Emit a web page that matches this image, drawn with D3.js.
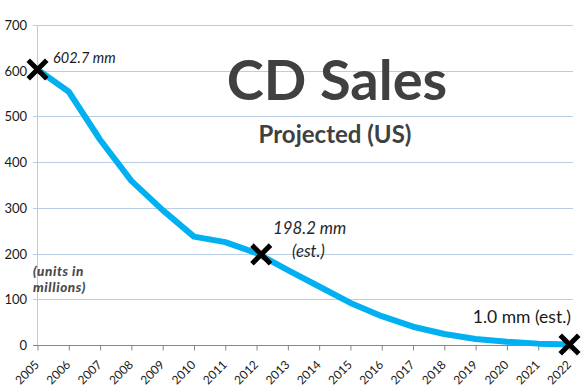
<!DOCTYPE html>
<html><head><meta charset="utf-8">
<script src="https://cdn.jsdelivr.net/npm/d3@7"></script>
<style>body{margin:0;background:#fff}svg{display:block}</style>
</head><body>
<svg id="c" width="588" height="392"></svg>
<script>
const years = [2005,2006,2007,2008,2009,2010,2011,2012,2013,2014,2015,2016,2017,2018,2019,2020,2021,2022];
const sales = [602.7,554,449,359,295,237,225,201,164,128,92,63,40,24,13,7,3,1.0];
const yTicks = [0,100,200,300,400,500,600,700];
const markerYears = [2005,2012.15,2022];
const markerValues = [602.7,198.2,1.0];

const svg = d3.select("#c");
const font = "Lato, 'Open Sans', sans-serif";
const x = d3.scaleLinear().domain([2005,2022]).range([37.5,569.5]);
const y = d3.scaleLinear().domain([0,700]).range([345,25]);

// gridlines
svg.append("g").selectAll("line").data(yTicks.filter(d=>d>0)).join("line")
  .attr("x1",33).attr("x2",573).attr("y1",d=>Math.round(y(d))+0.5).attr("y2",d=>Math.round(y(d))+0.5)
  .attr("stroke","#b9cde5").attr("stroke-width",1);
// y axis line
svg.append("line").attr("x1",37.5).attr("x2",37.5).attr("y1",25).attr("y2",345)
  .attr("stroke","#b9cde5");
// y labels
svg.append("g").selectAll("text").data(yTicks).join("text")
  .attr("x",27).attr("y",d=>y(d)+5).attr("text-anchor","end")
  .attr("font-family",font).attr("font-size",13).attr("fill","#1a1a1a").text(d=>d);
// x axis
const xa = svg.append("g").attr("transform","translate(0,345.5)")
  .call(d3.axisBottom(x).tickValues(years).tickFormat(d3.format("d")).tickSize(5).tickSizeOuter(0));
xa.select(".domain").attr("stroke","#868686").attr("d","M33,0H573");
xa.selectAll(".tick line").attr("stroke","#868686");
xa.selectAll(".tick text").attr("font-family",font).attr("font-size",12).attr("fill","#1a1a1a")
  .attr("text-anchor","end").attr("x",0).attr("y",0).attr("dy","0.35em")
  .attr("transform","translate(-1,17) rotate(-45)");

// line
const line = d3.line().x((d,i)=>x(years[i])).y(d=>y(d)).curve(d3.curveLinear);
svg.append("path").datum(sales).attr("d",line).attr("fill","none")
  .attr("stroke","#00b0f0").attr("stroke-width",6).attr("stroke-linejoin","round");

// markers
const ms = 7.5;
svg.append("g").selectAll("path").data(markerValues).join("path")
  .attr("d",(d,i)=>{const cx=x(markerYears[i]),cy=y(d);return `M${cx-ms},${cy-ms}L${cx+ms},${cy+ms}M${cx+ms},${cy-ms}L${cx-ms},${cy+ms}`;})
  .attr("stroke","#000").attr("stroke-width",5).attr("stroke-linecap","square");

// annotations
svg.append("text").attr("x",53).attr("y",63).attr("font-family",font).attr("font-style","italic")
  .attr("font-size",14.5).attr("fill","#1a1a1a").text("602.7 mm");
svg.append("text").attr("x",273).attr("y",234).attr("font-family",font).attr("font-style","italic")
  .attr("font-size",16.8).attr("fill","#262626").text("198.2 mm");
svg.append("text").attr("x",292).attr("y",257).attr("font-family",font).attr("font-style","italic")
  .attr("font-size",16.8).attr("fill","#262626").text("(est.)");
svg.append("text").attr("x",571).attr("y",323).attr("text-anchor","end").attr("font-family",font)
  .attr("font-size",17.5).attr("fill","#1a1a1a").text("1.0 mm (est.)");
svg.append("text").attr("x",33).attr("y",276).attr("font-family",font).attr("font-style","italic").attr("font-weight",900)
  .attr("font-size",13.5).attr("letter-spacing",0.6).attr("fill","#4a4a4a").text("(units in");
svg.append("text").attr("x",33).attr("y",292).attr("font-family",font).attr("font-style","italic").attr("font-weight",900)
  .attr("font-size",13.5).attr("letter-spacing",0.6).attr("fill","#4a4a4a").text("millions)");

// titles
svg.append("text").attr("x",337).attr("y",100).attr("text-anchor","middle").attr("font-family",font)
  .attr("font-weight",700).attr("font-size",56).attr("fill","#404040").text("CD Sales");
svg.append("text").attr("x",335).attr("y",143).attr("text-anchor","middle").attr("font-family",font)
  .attr("font-weight",700).attr("font-size",24).attr("fill","#404040").text("Projected (US)");
</script>
</body></html>
